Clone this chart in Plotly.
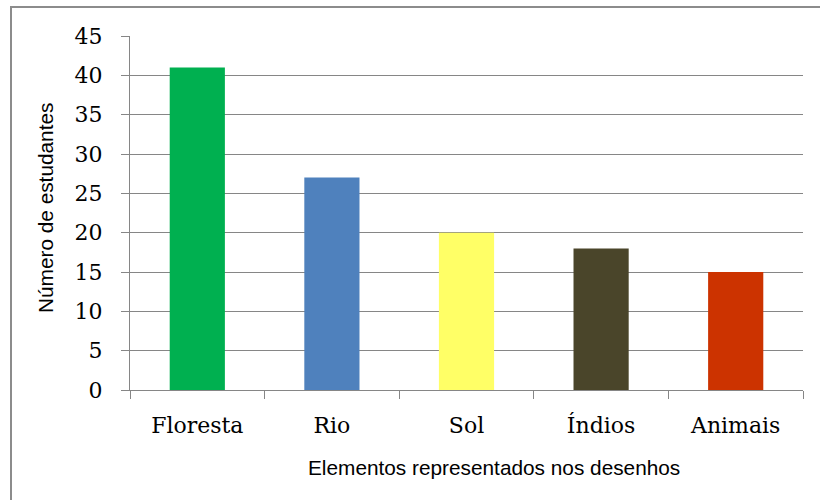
import plotly.graph_objects as go

# Elements drawn by the students and how many students drew each
categorias = ["Floresta", "Rio", "Sol", "Índios", "Animais"]
estudantes = [41, 27, 20, 18, 15]
cores = ["#00B050", "#4F81BD", "#FFFF66", "#4A452A", "#CC3300"]
y_ticks = [0, 5, 10, 15, 20, 25, 30, 35, 40, 45]

W, H = 820, 500
L, R, T, B = 130, 17, 36, 110
pw, ph = W - L - R, H - T - B

def px_x(p):
    return (p - L) / pw

def px_y(p):
    return (H - B - p) / ph

grid = "#868686"
serif = "DejaVu Serif"
sans = "Liberation Sans"

fig = go.Figure(go.Bar(
    x=categorias,
    y=estudantes,
    marker=dict(color=cores, line=dict(width=0)),
    width=0.41,
    hoverinfo="x+y",
))

fig.update_layout(
    width=W, height=H,
    margin=dict(l=L, r=R, t=T, b=B),
    paper_bgcolor="white",
    plot_bgcolor="white",
    showlegend=False,
    font=dict(family=serif, size=22, color="#000000"),
    xaxis=dict(
        type="category",
        tickson="boundaries",
        ticks="outside", ticklen=8, tickcolor=grid, tickwidth=1,
        showgrid=False,
        showline=True, linecolor=grid, linewidth=1,
        tickfont=dict(family=serif, size=22),
        ticklabelstandoff=16,
    ),
    yaxis=dict(
        range=[0, 45],
        tickvals=y_ticks,
        ticks="outside", ticklen=8, tickcolor=grid, tickwidth=1,
        showgrid=True, gridcolor=grid, gridwidth=1,
        showline=True, linecolor=grid, linewidth=1,
        zeroline=False,
        tickfont=dict(family=serif, size=22),
        ticklabelstandoff=14,
    ),
    shapes=[
        # chart frame
        dict(type="rect", xref="paper", yref="paper",
             x0=px_x(11), x1=px_x(830), y0=px_y(510), y1=px_y(7),
             line=dict(color="#8C8C8C", width=2), fillcolor="rgba(0,0,0,0)",
             layer="below"),
    ],
    annotations=[
        dict(text="Elementos representados nos desenhos",
             xref="paper", yref="paper", x=px_x(494), y=px_y(467),
             showarrow=False, xanchor="center", yanchor="middle",
             font=dict(family=sans, size=20.8, color="#000000")),
        dict(text="Número de estudantes",
             xref="paper", yref="paper", x=px_x(45), y=px_y(208),
             showarrow=False, xanchor="center", yanchor="middle",
             textangle=-90,
             font=dict(family=sans, size=20.8, color="#000000")),
    ],
)

fig.write_html("out.html")
